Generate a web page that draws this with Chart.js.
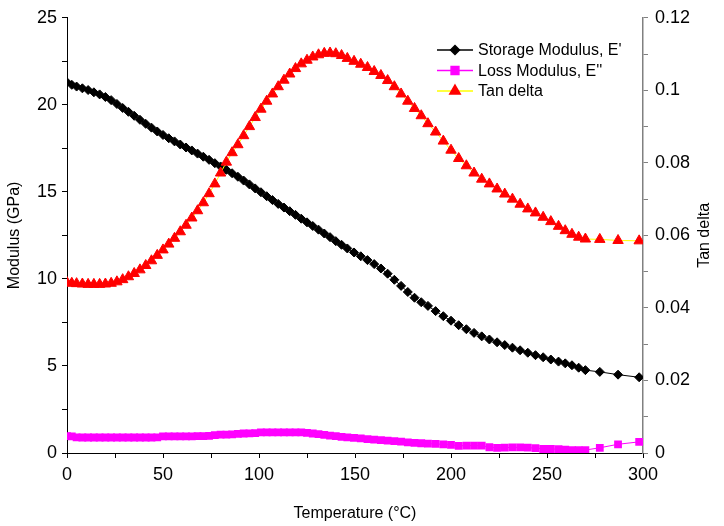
<!DOCTYPE html>
<html>
<head>
<meta charset="utf-8">
<script src="https://cdn.jsdelivr.net/npm/chart.js@4"></script>
<style>body { margin: 0; background: #fff; }</style>
</head>
<body>
<canvas id="dmaChart" width="724" height="526"></canvas>
<script>
// temperature (°C) of each measured point
const temps = [
    0, 2.5, 5, 8, 11, 14, 17, 20, 23, 26,
    29, 32, 35, 38, 41, 44, 47, 50, 53, 56,
    59, 62, 65, 68, 71, 74, 77, 80, 83, 86,
    89, 92, 95, 98, 101, 104, 107, 110, 113, 116,
    119, 122, 125, 128, 131, 134, 137, 140, 143, 146,
    149.5, 153, 156.5, 160, 163.5, 167, 170.5, 174, 177.5, 181,
    184.5, 188, 192, 196, 200, 204, 208, 212, 216, 220,
    224, 228, 232, 236, 240, 244, 248, 252, 256, 259.5,
    263, 266.5, 270, 277.5, 287, 298
];

// E' (GPa)
const storageModulus = [
    21.3, 21.15, 21.05, 20.95, 20.85, 20.72, 20.6, 20.45, 20.27, 20.05,
    19.82, 19.6, 19.37, 19.14, 18.91, 18.69, 18.47, 18.27, 18.08, 17.9,
    17.72, 17.55, 17.38, 17.2, 17.02, 16.84, 16.65, 16.46, 16.27, 16.07,
    15.87, 15.65, 15.43, 15.2, 14.98, 14.75, 14.53, 14.31, 14.1, 13.89,
    13.68, 13.46, 13.25, 13.04, 12.83, 12.61, 12.4, 12.17, 11.96, 11.75,
    11.52, 11.3, 11.08, 10.85, 10.6, 10.3, 9.95, 9.6, 9.25, 8.92,
    8.66, 8.45, 8.15, 7.86, 7.6, 7.34, 7.11, 6.9, 6.7, 6.52,
    6.36, 6.2, 6.05, 5.9, 5.76, 5.62, 5.5, 5.37, 5.25, 5.15,
    5.04, 4.9, 4.76, 4.66, 4.5, 4.35
];

// E'' (GPa)
const lossModulus = [
    0.97, 0.95, 0.9, 0.89, 0.89, 0.89, 0.89, 0.89, 0.89, 0.89,
    0.89, 0.89, 0.89, 0.89, 0.89, 0.89, 0.9, 0.95, 0.96, 0.96,
    0.96, 0.96, 0.96, 0.97, 0.97, 0.98, 1.03, 1.05, 1.06, 1.07,
    1.1, 1.12, 1.13, 1.14, 1.18, 1.19, 1.19, 1.19, 1.19, 1.19,
    1.19, 1.19, 1.15, 1.12, 1.08, 1.04, 1.0, 0.97, 0.93, 0.9,
    0.87, 0.84, 0.8, 0.77, 0.74, 0.71, 0.68, 0.65, 0.61, 0.58,
    0.56, 0.54, 0.52, 0.5, 0.47, 0.41, 0.43, 0.43, 0.42, 0.33,
    0.3, 0.31, 0.32, 0.32, 0.31, 0.28, 0.23, 0.23, 0.22, 0.2,
    0.17, 0.17, 0.17, 0.3, 0.5, 0.64
];

const tanDelta = [
    0.047, 0.0468, 0.0467, 0.0466, 0.0465, 0.0465, 0.0465, 0.0466, 0.0468, 0.0472,
    0.0478, 0.0486, 0.0495, 0.0505, 0.0517, 0.053, 0.0545, 0.056, 0.0576, 0.0592,
    0.061, 0.0628, 0.0648, 0.0668, 0.069, 0.0715, 0.0742, 0.0772, 0.0802, 0.0828,
    0.085, 0.0875, 0.09, 0.0925, 0.0948, 0.097, 0.099, 0.101, 0.1028, 0.1045,
    0.106, 0.1073, 0.1083, 0.1092, 0.1098, 0.1102, 0.1103, 0.1101, 0.1096, 0.1088,
    0.108, 0.1072, 0.1063, 0.1052, 0.1041, 0.1027, 0.101, 0.099, 0.097, 0.095,
    0.093, 0.0908, 0.0885, 0.086, 0.0835, 0.0812, 0.0792, 0.0772, 0.0755, 0.0742,
    0.0728, 0.0714, 0.07, 0.0686, 0.0673, 0.0662, 0.065, 0.0638, 0.0625, 0.0613,
    0.0603, 0.0595, 0.059, 0.0589, 0.0586, 0.0585
];

const seriesNames = ["Storage Modulus, E'", "Loss Modulus, E''", 'Tan delta'];

const FONT = "Arial, 'Liberation Sans', sans-serif";

function toPoints(values) {
    return temps.map((t, i) => ({ x: t, y: values[i] }));
}

// excel style legend: short line with the marker on it
const legendItems = [
    { text: seriesNames[0], line: '#000000', fill: '#000000', style: 'rectRot', radius: 4.5 },
    { text: seriesNames[1], line: '#ff00ff', fill: '#ff00ff', style: 'rect', radius: 5.5 },
    { text: seriesNames[2], line: '#ffff00', fill: '#ff0000', style: 'triangle', radius: 6 }
];

const extras = {
    id: 'extras',
    afterDraw(chart) {
        const ctx = chart.ctx;
        ctx.save();
        legendItems.forEach((item, i) => {
            const y = 50 + i * 20.5;
            ctx.strokeStyle = item.line;
            ctx.lineWidth = 1.5;
            ctx.beginPath();
            ctx.moveTo(437, y);
            ctx.lineTo(473, y);
            ctx.stroke();
            ctx.fillStyle = item.fill;
            ctx.strokeStyle = item.fill;
            Chart.helpers.drawPoint(ctx, { pointStyle: item.style, radius: item.radius, borderWidth: 1, rotation: 0 }, 455, y);
            ctx.fillStyle = '#000';
            ctx.font = '16px ' + FONT;
            ctx.textBaseline = 'middle';
            ctx.textAlign = 'left';
            ctx.fillText(item.text, 478, y + 1);
        });

        // secondary axis title, turned the same way as the primary one
        const area = chart.chartArea;
        ctx.translate(705, (area.top + area.bottom) / 2);
        ctx.rotate(-Math.PI / 2);
        ctx.textAlign = 'center';
        ctx.textBaseline = 'middle';
        ctx.font = '16px ' + FONT;
        ctx.fillStyle = '#000';
        ctx.fillText('Tan delta', 0, 0);
        ctx.restore();
    }
};

const dmaConfig = {
    type: 'line',
    data: {
        datasets: [
            {
                label: seriesNames[2],
                data: toPoints(tanDelta),
                yAxisID: 'y1',
                borderColor: '#ffff00',
                borderWidth: 1,
                pointStyle: 'triangle',
                pointRadius: 6,
                pointBackgroundColor: '#ff0000',
                pointBorderColor: '#ff0000',
                pointBorderWidth: 1,
                order: 0
            },
            {
                label: seriesNames[0],
                data: toPoints(storageModulus),
                yAxisID: 'y',
                borderColor: '#000000',
                borderWidth: 1,
                pointStyle: 'rectRot',
                pointRadius: 4.5,
                pointBackgroundColor: '#000000',
                pointBorderColor: '#000000',
                pointBorderWidth: 1,
                order: 1
            },
            {
                label: seriesNames[1],
                data: toPoints(lossModulus),
                yAxisID: 'y',
                borderColor: '#ff00ff',
                borderWidth: 1,
                pointStyle: 'rect',
                pointRadius: 5.5,
                pointBackgroundColor: '#ff00ff',
                pointBorderColor: '#ff00ff',
                pointBorderWidth: 0,
                order: 2
            }
        ]
    },
    options: {
        responsive: false,
        animation: false,
        layout: { padding: { top: 13, left: 0, right: 0, bottom: 0 } },
        plugins: {
            legend: { display: false },
            tooltip: { enabled: false }
        },
        scales: {
            x: {
                type: 'linear',
                min: 0,
                max: 300,
                afterFit: s => { s.height = 73; },
                grid: { drawOnChartArea: false, tickLength: 5, color: '#000', tickColor: '#000' },
                border: { color: '#000', width: 1 },
                ticks: {
                    stepSize: 25,
                    autoSkip: false,
                    maxRotation: 0,
                    padding: 6,
                    color: '#000',
                    font: { family: FONT, size: 18 },
                    callback: v => (v % 50 === 0 ? v : '')
                },
                title: {
                    display: true,
                    text: 'Temperature (°C)',
                    color: '#000',
                    font: { family: FONT, size: 16 },
                    padding: { top: 4, bottom: 3 }
                }
            },
            y: {
                position: 'left',
                min: 0,
                max: 25,
                afterFit: s => { s.width = 67; },
                grid: { drawOnChartArea: false, tickLength: 5, color: '#000', tickColor: '#000' },
                border: { color: '#000', width: 1 },
                ticks: {
                    stepSize: 2.5,
                    autoSkip: false,
                    padding: 5,
                    color: '#000',
                    font: { family: FONT, size: 18 },
                    callback: v => (v % 5 === 0 ? v : '')
                },
                title: {
                    display: true,
                    text: 'Modulus (GPa)',
                    color: '#000',
                    font: { family: FONT, size: 16 },
                    padding: 5
                }
            },
            y1: {
                position: 'right',
                min: 0,
                max: 0.12,
                afterFit: s => { s.width = 81; },
                grid: { drawOnChartArea: false, tickLength: 5, color: '#808080', tickColor: '#808080' },
                border: { color: '#808080', width: 1.5 },
                ticks: {
                    stepSize: 0.01,
                    autoSkip: false,
                    padding: 7,
                    color: '#000',
                    font: { family: FONT, size: 18 },
                    callback: v => {
                        const hundredths = Math.round(v * 100);
                        if (hundredths % 2 !== 0) return '';
                        return hundredths === 0 ? '0' : String(hundredths / 100);
                    }
                }
            }
        }
    },
    plugins: [extras]
};

const dmaChart = new Chart(document.getElementById('dmaChart'), dmaConfig);
</script>
</body>
</html>
